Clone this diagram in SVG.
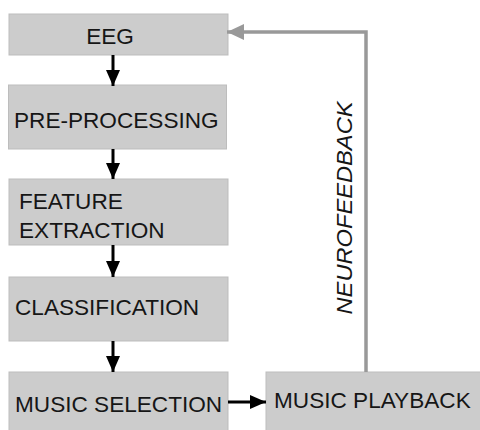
<svg xmlns="http://www.w3.org/2000/svg" width="480" height="430" viewBox="0 0 480 430">
  <style>
    .box { fill: #cccccc; stroke: #bdbdbd; stroke-width: 1; }
    .lbl { font-family: "Liberation Sans", Arial, sans-serif; font-size: 22.6px; fill: #161616; }
    .flow { stroke: #000; stroke-width: 3; fill: none; }
    .fb { stroke: #999999; stroke-width: 3.5; fill: none; }
  </style>
  <defs>
    <marker id="blackHead" markerUnits="userSpaceOnUse" markerWidth="16" markerHeight="16" refX="16" refY="8" orient="auto">
      <path d="M0,1 L16,8 L0,15 Z" fill="#000"/>
    </marker>
    <marker id="grayHead" markerUnits="userSpaceOnUse" markerWidth="18" markerHeight="18" refX="17" refY="9" orient="auto">
      <path d="M0,1 L17,9 L0,17 Z" fill="#999999"/>
    </marker>
  </defs>
  <rect width="480" height="430" fill="#ffffff"/>

  <g id="eeg">
    <rect class="box" x="9" y="14" width="219" height="41"/>
    <text class="lbl" x="110" y="43.5" text-anchor="middle">EEG</text>
  </g>
  <g id="preprocessing">
    <rect class="box" x="8.5" y="85" width="218" height="64"/>
    <text class="lbl" x="14" y="128">PRE-PROCESSING</text>
  </g>
  <g id="feature-extraction">
    <rect class="box" x="9" y="179" width="219" height="66"/>
    <text class="lbl" x="19" y="209">FEATURE</text>
    <text class="lbl" x="19" y="238">EXTRACTION</text>
  </g>
  <g id="classification">
    <rect class="box" x="9" y="277" width="219" height="64"/>
    <text class="lbl" x="15" y="315">CLASSIFICATION</text>
  </g>
  <g id="music-selection">
    <rect class="box" x="9" y="372" width="219" height="62"/>
    <text class="lbl" x="15" y="412">MUSIC SELECTION</text>
  </g>
  <g id="music-playback">
    <rect class="box" x="266" y="372" width="218" height="62"/>
    <text class="lbl" x="274" y="408">MUSIC PLAYBACK</text>
  </g>

  <g id="connectors">
    <line class="flow" x1="113" y1="55" x2="113" y2="86" marker-end="url(#blackHead)"/>
    <line class="flow" x1="113" y1="149" x2="113" y2="179" marker-end="url(#blackHead)"/>
    <line class="flow" x1="113" y1="245" x2="113" y2="277" marker-end="url(#blackHead)"/>
    <line class="flow" x1="113" y1="341" x2="113" y2="372" marker-end="url(#blackHead)"/>
    <line class="flow" x1="228" y1="402" x2="266" y2="402" marker-end="url(#blackHead)"/>
    <polyline class="fb" points="366,372 366,32 227,32" marker-end="url(#grayHead)"/>
    <text class="lbl" font-style="italic" transform="translate(352,208) rotate(-90)" text-anchor="middle" textLength="213" lengthAdjust="spacingAndGlyphs">NEUROFEEDBACK</text>
  </g>
</svg>
